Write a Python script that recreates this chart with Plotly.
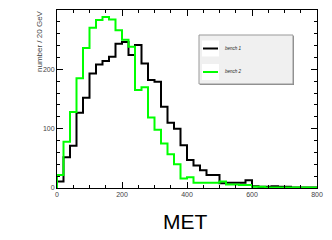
import plotly.graph_objects as go

# ---- data ----
bin_width = 20
bin_edges = [i * bin_width for i in range(41)]  # 0..800 GeV
bench1 = [11, 52, 71, 127, 152, 193, 208, 214, 221, 243,
          246, 224, 241, 210, 182, 179, 137, 110, 100, 72,
          47, 38, 30, 22, 22, 8, 9, 9, 9, 13,
          3, 2, 2, 3, 2, 2, 1, 1, 1, 1]
bench2 = [22, 78, 128, 185, 236, 270, 283, 288, 284, 266,
          250, 238, 165, 170, 119, 98, 75, 57, 40, 16,
          18, 9, 9, 9, 9, 11, 6, 6, 5, 5,
          2, 2, 1, 1, 1, 1, 1, 1, 1, 1]
series_names = ["bench 1", "bench 2"]
series_colors = ["#000000", "#00ff00"]
x_ticks = [0, 200, 400, 600, 800]
y_ticks = [0, 100, 200, 300]

FONT = "Liberation Sans, Arial, sans-serif"

fig = go.Figure()
for vals, name, col in zip([bench1, bench2], series_names, series_colors):
    xs = [bin_edges[0]] + bin_edges[:-1] + [bin_edges[-1]]
    ys = [0] + vals + [0]
    fig.add_trace(go.Scatter(x=xs, y=ys, mode="lines", line_shape="hv",
                             line=dict(color=col, width=2), name=name,
                             showlegend=False, cliponaxis=True))

# plot area in window pixels; page body has an 8px margin
OFF = 8
L, R, T, B = 57, 317, 10, 188
W, H = 332, 240


def px(xp):
    return (xp - L) / (R - L)


def py(yp):
    return (B - yp) / (B - T)


fig.update_layout(
    template="none",
    width=W - OFF, height=H - OFF,
    margin=dict(l=L - OFF, r=W - R, t=T - OFF, b=H - B, pad=0),
    paper_bgcolor="white", plot_bgcolor="white",
    font=dict(family=FONT, color="#333"),
    xaxis=dict(range=[0, 800], tickvals=x_ticks, ticks="inside", ticklen=6,
               tickcolor="black", showline=True, linecolor="black", linewidth=1,
               mirror="allticks", showgrid=False, zeroline=False, automargin=False,
               tickfont=dict(size=7, color="#444"),
               minor=dict(dtick=50, ticks="inside", ticklen=3, tickcolor="black", showgrid=False)),
    yaxis=dict(range=[0, 300], tickvals=y_ticks, ticks="inside", ticklen=6,
               tickcolor="black", showline=True, linecolor="black", linewidth=1,
               mirror="allticks", showgrid=False, zeroline=False, automargin=False,
               tickfont=dict(size=7, color="#444"),
               minor=dict(dtick=20, ticks="inside", ticklen=3, tickcolor="black", showgrid=False)),
)

# axis titles
fig.add_annotation(text="MET", xref="paper", yref="paper", x=px(185), y=py(221),
                   xanchor="center", yanchor="middle", showarrow=False,
                   font=dict(size=21, color="black", family=FONT))
fig.add_annotation(text="number / 20 GeV", xref="paper", yref="paper", x=px(40), y=py(8),
                   xanchor="center", yanchor="top", textangle=-90, showarrow=False,
                   font=dict(size=8, color="#444", family=FONT))

# legend box (drawn manually, ROOT style)
fig.add_shape(type="rect", xref="paper", yref="paper", x0=px(200), x1=px(294), y0=py(36), y1=py(85),
              fillcolor="#888", line=dict(width=0), layer="above")
fig.add_shape(type="rect", xref="paper", yref="paper", x0=px(199), x1=px(293), y0=py(35), y1=py(84),
              fillcolor="#f0f0f0", line=dict(color="#999", width=1), layer="above")
for i, (name, col) in enumerate(zip(series_names, series_colors)):
    yc = 48.5 + i * 23.5
    fig.add_shape(type="rect", xref="paper", yref="paper", x0=px(202), x1=px(219),
                  y0=py(yc - 8), y1=py(yc + 8), fillcolor="white", line=dict(width=0), layer="above")
    fig.add_shape(type="line", xref="paper", yref="paper", x0=px(203), x1=px(218),
                  y0=py(yc), y1=py(yc), line=dict(color=col, width=2), layer="above")
    fig.add_annotation(text="<i>" + name + "</i>", xref="paper", yref="paper", x=px(222.5), y=py(yc),
                       xanchor="left", yanchor="middle", showarrow=False,
                       font=dict(size=4.5, color="#222", family=FONT))

fig.write_html("out.html")
